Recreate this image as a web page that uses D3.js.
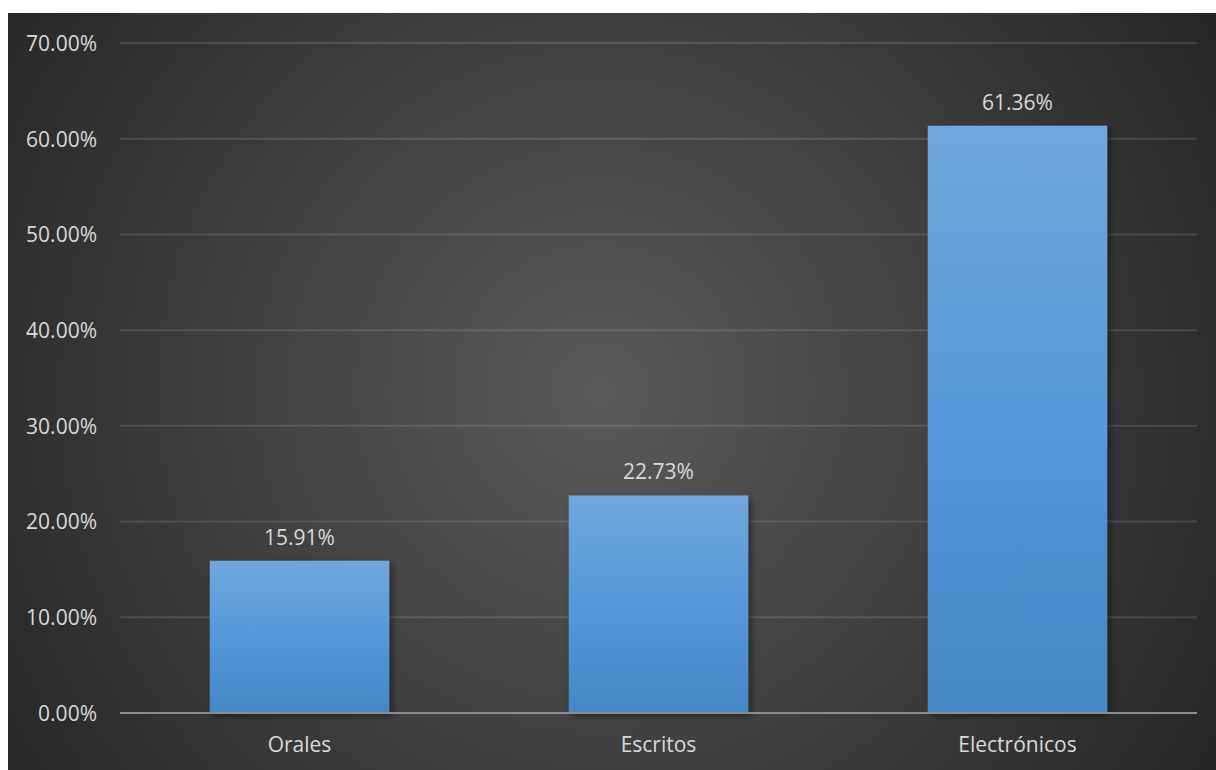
<!DOCTYPE html>
<html>
<head>
<meta charset="utf-8">
<script src="https://cdn.jsdelivr.net/npm/d3@7"></script>
<style>
  html, body { margin: 0; padding: 0; background: #ffffff; }
  svg { display: block; }
  text { font-family: "Open Sans", "Noto Sans", sans-serif; }
</style>
</head>
<body>
<script>
// Chart data
const categories = ["Orales", "Escritos", "Electrónicos"];
const values = [15.91, 22.73, 61.36];
const yTicks = [0, 10, 20, 30, 40, 50, 60, 70];

const W = 1216, H = 770;
const FS = 21;
const svg = d3.select("body").append("svg").attr("width", W).attr("height", H);
const defs = svg.append("defs");

// Dark radial background
const bg = defs.append("radialGradient").attr("id", "bgGrad")
  .attr("gradientUnits", "userSpaceOnUse")
  .attr("cx", 600).attr("cy", 390).attr("r", 720);
bg.append("stop").attr("offset", "0%").attr("stop-color", "#5a5a5a");
bg.append("stop").attr("offset", "100%").attr("stop-color", "#262626");

// Bar fill
const barGrad = defs.append("linearGradient").attr("id", "barGrad")
  .attr("x1", 0).attr("y1", 0).attr("x2", 0).attr("y2", 1);
barGrad.append("stop").attr("offset", "0%").attr("stop-color", "#70a7dc");
barGrad.append("stop").attr("offset", "50%").attr("stop-color", "#5598d9");
barGrad.append("stop").attr("offset", "100%").attr("stop-color", "#4487c7");

const shadow = defs.append("filter").attr("id", "shadow")
  .attr("x", "-10%").attr("y", "-10%").attr("width", "130%").attr("height", "130%");
shadow.append("feDropShadow").attr("dx", 3).attr("dy", 3).attr("stdDeviation", 3)
  .attr("flood-color", "#000").attr("flood-opacity", 0.45);

svg.append("rect").attr("x", 8).attr("y", 13).attr("width", W - 8).attr("height", H - 13)
  .attr("fill", "url(#bgGrad)");

const margin = { left: 120, right: 1197, top: 43, bottom: 713 };

const x = d3.scaleBand().domain(categories)
  .range([margin.left, margin.right]).paddingInner(0.5).paddingOuter(0.25);
const y = d3.scaleLinear().domain([0, 70]).range([margin.bottom, margin.top]);

// Gridlines
svg.append("g").selectAll("line").data(yTicks.filter(d => d > 0)).join("line")
  .attr("x1", margin.left).attr("x2", margin.right)
  .attr("y1", d => y(d)).attr("y2", d => y(d))
  .attr("stroke", "#ffffff").attr("stroke-opacity", 0.12).attr("stroke-width", 2);

// Y axis labels
const yAxis = d3.axisLeft(y).tickValues(yTicks).tickSize(0).tickPadding(0)
  .tickFormat(d => d.toFixed(2) + "%");
const gy = svg.append("g").attr("transform", `translate(97,0)`).call(yAxis);
gy.select(".domain").remove();
gy.selectAll("text").attr("fill", "#d9d9d9").attr("font-size", FS).attr("dy", "0.35em");

// Bars
svg.append("g").selectAll("rect").data(values).join("rect")
  .attr("x", (d, i) => x(categories[i]))
  .attr("y", d => y(d))
  .attr("width", x.bandwidth())
  .attr("height", d => y(0) - y(d))
  .attr("fill", "url(#barGrad)")
  .attr("filter", "url(#shadow)");

// Value labels
svg.append("g").selectAll("text").data(values).join("text")
  .attr("x", (d, i) => x(categories[i]) + x.bandwidth() / 2)
  .attr("y", d => y(d) - 16)
  .attr("text-anchor", "middle")
  .attr("fill", "#d9d9d9").attr("font-size", FS)
  .text(d => d.toFixed(2) + "%");

// X axis line
svg.append("line").attr("x1", margin.left).attr("x2", margin.right)
  .attr("y1", y(0)).attr("y2", y(0))
  .attr("stroke", "#8c8c8c").attr("stroke-width", 2);

// Category labels
const xAxis = d3.axisBottom(x).tickSize(0).tickPadding(0);
const gx = svg.append("g").attr("transform", `translate(0,${y(0) + 32})`).call(xAxis);
gx.select(".domain").remove();
gx.selectAll("text").attr("fill", "#d9d9d9").attr("font-size", FS).attr("dy", "0.35em");
</script>
</body>
</html>
